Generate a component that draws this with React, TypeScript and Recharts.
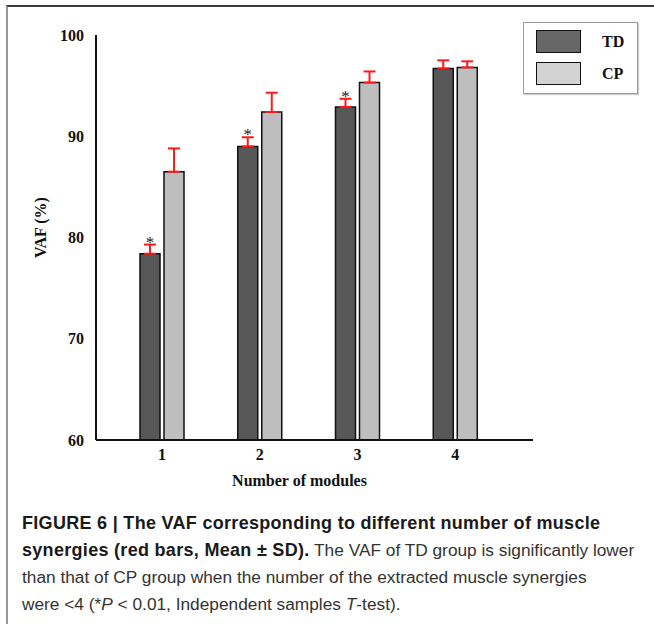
import { BarChart, Bar, XAxis, YAxis, ErrorBar, Label } from 'recharts';

const modules = ['1', '2', '3', '4'];
const tdMean = [78.4, 89.0, 92.9, 96.7];
const tdSd = [0.9, 0.9, 0.8, 0.8];
const cpMean = [86.5, 92.4, 95.3, 96.8];
const cpSd = [2.3, 1.9, 1.1, 0.6];
const significant = [true, true, true, false];
const yTicks = [60, 70, 80, 90, 100];

const TD_COLOR = '#575757';
const CP_COLOR = '#bebebe';
const SERIF = '"Liberation Serif", "Times New Roman", serif';
const SANS = '"Liberation Sans", Arial, sans-serif';
const Y_MIN = 60;

const data = modules.map((m, i) => ({
  module: m,
  td: tdMean[i],
  tdErr: [0, tdSd[i]],
  cp: cpMean[i],
  cpErr: [0, cpSd[i]],
}));

// star sits just above the TD error bar; pixel scale taken from the bar itself
const StarLabel = (props: any) => {
  const { x, y, width, height, index } = props;
  if (!significant[index]) return null;
  const pxPerUnit = height / (tdMean[index] - Y_MIN);
  const errTop = y - tdSd[index] * pxPerUnit;
  return (
    <text
      x={x + width / 2}
      y={errTop + 3}
      textAnchor="middle"
      fontFamily={SERIF}
      fontSize={17}
      fill="#222"
    >
      *
    </text>
  );
};

const legendItems = [
  { name: 'TD', color: '#666666', top: 7 },
  { name: 'CP', color: '#d3d3d3', top: 39 },
];

const LegendBox = () => (
  <div
    style={{
      position: 'absolute',
      left: 523,
      top: 22,
      width: 113,
      height: 70,
      border: '1px solid #9a9a9a',
      boxShadow: '1px 1px 1px #cfcfcf',
      background: '#fff',
      fontFamily: SERIF,
      fontWeight: 'bold',
      fontSize: 16,
      color: '#111',
    }}
  >
    {legendItems.map((item) => (
      <div key={item.name}>
        <div
          style={{
            position: 'absolute',
            left: 12,
            top: item.top,
            width: 43,
            height: 21,
            background: item.color,
            border: '1.5px solid #111',
          }}
        />
        <div style={{ position: 'absolute', left: 78, top: item.top + 3, lineHeight: '18px' }}>
          {item.name}
        </div>
      </div>
    ))}
  </div>
);

export default function App() {
  return (
    <div
      style={{
        position: 'absolute',
        left: 0,
        top: 0,
        width: 654,
        height: 624,
        background: '#fff',
        overflow: 'hidden',
      }}
    >
      <div
        style={{
          position: 'absolute',
          left: 6,
          top: 5,
          width: 660,
          height: 640,
          borderTop: '2px solid #3a3a3a',
          borderLeft: '2px solid #9a9a9a',
        }}
      />
      <div style={{ position: 'absolute', left: 0, top: 0 }}>
        <BarChart
          width={654}
          height={500}
          data={data}
          margin={{ top: 35, right: 121, left: 0, bottom: 10 }}
          barSize={20}
          barGap={4}
        >
          <XAxis
            dataKey="module"
            axisLine={{ stroke: '#111', strokeWidth: 2 }}
            tickLine={false}
            tickMargin={3}
            height={50}
            padding={{ left: 17, right: 29 }}
            tick={{ fill: '#111', fontFamily: SERIF, fontWeight: 'bold', fontSize: 16 }}
          >
            <Label
              value="Number of modules"
              position="insideBottom"
              offset={4}
              dx={-15}
              style={{ fill: '#111', fontFamily: SERIF, fontWeight: 'bold', fontSize: 16 }}
            />
          </XAxis>
          <YAxis
            domain={[60, 100]}
            ticks={yTicks}
            width={96}
            axisLine={{ stroke: '#111', strokeWidth: 2 }}
            tickLine={false}
            tickMargin={6}
            tick={{ fill: '#111', fontFamily: SERIF, fontWeight: 'bold', fontSize: 16 }}
          >
            <Label
              value="VAF (%)"
              angle={-90}
              position="center"
              dx={-8}
              dy={-10}
              style={{ fill: '#111', fontFamily: SERIF, fontWeight: 'bold', fontSize: 16 }}
            />
          </YAxis>
          <Bar
            dataKey="td"
            name="TD"
            fill={TD_COLOR}
            stroke="#111"
            strokeWidth={1.5}
            isAnimationActive={false}
            label={<StarLabel />}
          >
            <ErrorBar dataKey="tdErr" width={6} stroke="#ff1a1a" strokeWidth={2} direction="y" />
          </Bar>
          <Bar
            dataKey="cp"
            name="CP"
            fill={CP_COLOR}
            stroke="#111"
            strokeWidth={1.5}
            isAnimationActive={false}
          >
            <ErrorBar dataKey="cpErr" width={6} stroke="#ff1a1a" strokeWidth={2} direction="y" />
          </Bar>
        </BarChart>
      </div>
      <LegendBox />
      <div
        style={{
          position: 'absolute',
          left: 22,
          top: 510,
          fontFamily: SANS,
          fontSize: 17.3,
          lineHeight: '27px',
          color: '#333',
          whiteSpace: 'nowrap',
        }}
      >
        <b style={{ color: '#1a1a1a', fontSize: 18, letterSpacing: 0.3 }}>
          FIGURE 6 | The VAF corresponding to different number of muscle
        </b>
        <br />
        <b style={{ color: '#1a1a1a', fontSize: 18, letterSpacing: 0.3 }}>synergies (red bars, Mean ± SD).</b> The VAF
        of TD group is significantly lower
        <br />
        than that of CP group when the number of the extracted muscle synergies
        <br />
        were &lt;4 (*<i>P</i> &lt; 0.01, Independent samples <i>T</i>-test).
      </div>
    </div>
  );
}
